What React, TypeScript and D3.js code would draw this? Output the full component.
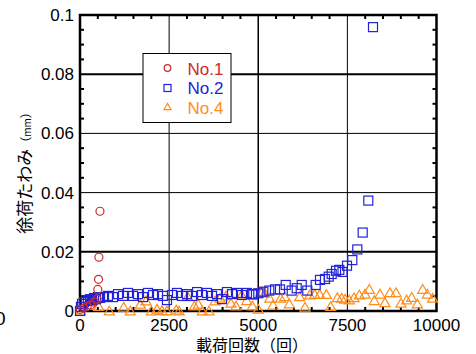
import React from 'react';
import * as d3 from 'd3';

// No.1 (cycles, mm)
const no1Cycles = [0, 100, 200, 300, 400, 480, 500, 520, 530, 560];
const no1Defl = [0.0005, 0.001, 0.0015, 0.002, 0.003, 0.004, 0.0073, 0.0107, 0.0182, 0.0337];

// No.2
const no2Cycles = [
  0, 28, 56, 112, 168, 224, 280, 337, 393, 449, 505, 561, 645, 785, 926, 1066, 1206, 1346,
  1487, 1627, 1767, 1907, 2048, 2188, 2328, 2440, 2580, 2721, 2861, 3001, 3142, 3282, 3422,
  3562, 3703, 3843, 3983, 4123, 4264, 4404, 4544, 4684, 4825, 4861, 5001, 5142, 5310, 5470,
  5610, 5770, 5938, 6079, 6219, 6376, 6611, 6732, 6872, 6976, 7060, 7181, 7274, 7363, 7490,
  7638, 7778, 7930, 8087, 8219,
];
const no2Defl = [
  0, 0.0014, 0.0024, 0.003, 0.0037, 0.0034, 0.004, 0.0037, 0.0044, 0.004, 0.0047, 0.0044,
  0.0047, 0.0051, 0.0047, 0.0057, 0.0051, 0.0061, 0.0051, 0.0057, 0.0047, 0.0061, 0.0054,
  0.0057, 0.0051, 0.0037, 0.0054, 0.0061, 0.0051, 0.0057, 0.0051, 0.0064, 0.0054, 0.0061,
  0.0051, 0.0057, 0.004, 0.0064, 0.0057, 0.0061, 0.0054, 0.0061, 0.0057, 0.0056, 0.006,
  0.0065, 0.0069, 0.0073, 0.0073, 0.0088, 0.0069, 0.0077, 0.0088, 0.0069, 0.0088, 0.0105,
  0.0108, 0.0116, 0.0125, 0.0136, 0.0139, 0.0132, 0.0153, 0.0172, 0.0208, 0.0265, 0.0373,
  0.0959,
];

// No.4
const no4Cycles = [
  20, 525, 822, 1226, 1411, 1692, 1851, 2001, 2160, 2300, 2440, 2700, 2780, 3020, 3207, 3319,
  3431, 3618, 3787, 3927, 4095, 4235, 4376, 4535, 4675, 4834, 5002, 5068, 5114, 5180, 5321,
  5414, 5630, 5742, 5871, 6163, 6312, 6443, 6583, 6724, 6911, 7032, 7218, 7340, 7433, 7553,
  7686, 7836, 7994, 8115, 8255, 8414, 8554, 8695, 8863, 9004, 9164, 9304, 9462, 9612, 9742,
  9892,
];
const no4Defl = [
  0, 0.0015, 0, 0.0013, 0, 0.0023, 0.0034, 0, 0.0006, 0.0001, 0, 0.0003, 0, 0.0048, 0.0017,
  0.0023, 0, 0, 0.0034, 0.0043, 0.0051, 0.0026, 0.0017, 0.0054, 0.0035, 0.0017, 0.0006,
  0.0063, 0.0065, 0.006, 0.0043, 0.002, 0.0043, 0.0048, 0.0024, 0.0048, 0.0013, 0.0054,
  0.0056, 0.0056, 0.0056, 0.0015, 0.0045, 0.0043, 0.004, 0.0037, 0.0045, 0.0054, 0.0057,
  0.0073, 0.0035, 0.0057, 0.0028, 0.0062, 0.0062, 0.0026, 0.0037, 0.0046, 0.0024, 0.0073,
  0.0057, 0.0043,
];

const xTicks = [0, 2500, 5000, 7500, 10000];
const yTicks = [0, 0.02, 0.04, 0.06, 0.08, 0.1];
const yTickLabels = ['0', '0.02', '0.04', '0.06', '0.08', '0.1'];

const RED = '#cc2a2a';
const BLUE = '#2222d8';
const ORANGE = '#ff8c1a';

const left = 80, right = 436.5, top = 15, bottom = 311;

const App: React.FC = () => {
  const x = d3.scaleLinear().domain([0, 10000]).range([left, right]);
  const y = d3.scaleLinear().domain([0, 0.1]).range([bottom, top]);
  const xMinor = d3.range(500, 10000, 500).filter(v => v % 2500 !== 0);
  const yMinor = d3.range(1, 20).map(i => i * 0.005).filter((v, i) => (i + 1) % 4 !== 0);
  const tri = d3.symbol().type(d3.symbolTriangle).size(44)();
  const triSmall = d3.symbol().type(d3.symbolTriangle).size(22)();
  const font = 'Arial, "Liberation Sans", sans-serif';
  const jp = '"Noto Sans CJK JP", sans-serif';

  return (
    <svg width={476} height={354} style={{ position: 'absolute', left: 0, top: 0, background: '#fff' }}>
      <rect width={476} height={354} fill="#fff" />
      {/* grid */}
      {yTicks.slice(1, -1).map((v, i) => (
        <line key={'gy' + i} x1={left} x2={right} y1={y(v)} y2={y(v)} stroke="#000"
          strokeWidth={v === 0.02 || v === 0.08 ? 2 : 1} />
      ))}
      {xTicks.slice(1, -1).map((v, i) => (
        <line key={'gx' + i} x1={x(v)} x2={x(v)} y1={top} y2={bottom} stroke="#000"
          strokeWidth={v === 5000 ? 1.5 : 1} />
      ))}
      {/* minor ticks */}
      {xMinor.map((v, i) => (
        <g key={'mx' + i}>
          <line x1={x(v)} x2={x(v)} y1={bottom} y2={bottom - 4} stroke="#000" strokeWidth={2} />
          <line x1={x(v)} x2={x(v)} y1={top} y2={top + 4} stroke="#000" strokeWidth={2} />
        </g>
      ))}
      {yMinor.map((v, i) => (
        <g key={'my' + i}>
          <line x1={left} x2={left + 4} y1={y(v)} y2={y(v)} stroke="#000" strokeWidth={2} />
          <line x1={right} x2={right - 4} y1={y(v)} y2={y(v)} stroke="#000" strokeWidth={2} />
        </g>
      ))}
      <rect x={left} y={top} width={right - left} height={bottom - top} fill="none" stroke="#000" strokeWidth={2.5} />

      {/* tick labels */}
      {yTicks.map((v, i) => (
        <text key={'ly' + i} x={74} y={y(v) + 6} textAnchor="end" fontSize={17} fontFamily={font}>
          {yTickLabels[i]}
        </text>
      ))}
      {xTicks.map((v, i) => (
        <text key={'lx' + i} x={x(v)} y={331} textAnchor="middle" fontSize={17} fontFamily={font}>
          {v}
        </text>
      ))}
      <text x={-5} y={325} fontSize={19} fontFamily={font}>0</text>

      {/* axis titles */}
      <text x={252} y={350.5} textAnchor="middle" fontSize={16} fontFamily={jp}>載荷回数（回）</text>
      <text transform="translate(31,170) rotate(-90)" textAnchor="middle" fontSize={17} fontFamily={jp}>
        徐荷たわみ<tspan fontSize={12}>（</tspan><tspan fontSize={10}>mm</tspan><tspan fontSize={12}>）</tspan>
      </text>

      {/* data */}
      {no4Cycles.map((c, i) => (
        <path key={'t' + i} d={tri} transform={`translate(${x(c)},${y(no4Defl[i]) + 1})`}
          fill="none" stroke={ORANGE} strokeWidth={1.2} />
      ))}
      {no2Cycles.map((c, i) => (
        <rect key={'s' + i} x={x(c) - 4.5} y={y(no2Defl[i]) - 4.5} width={9} height={9}
          fill="none" stroke={BLUE} strokeWidth={1.2} />
      ))}
      {no1Cycles.map((c, i) => (
        <circle key={'c' + i} cx={x(c)} cy={y(no1Defl[i])} r={4} fill="none" stroke={RED} strokeWidth={1.2} />
      ))}

      {/* legend */}
      <rect x={143} y={53.5} width={88} height={69} fill="#fff" stroke="#000" strokeWidth={1} />
      <circle cx={167.5} cy={68} r={3.3} fill="none" stroke={RED} strokeWidth={1.2} />
      <rect x={164} y={84.5} width={7} height={7} fill="none" stroke={BLUE} strokeWidth={1.2} />
      <path d={triSmall} transform="translate(167.5,107.5)" fill="none" stroke={ORANGE} strokeWidth={1.2} />
      <text x={187.5} y={74.5} fontSize={17} fontFamily={font} fill={RED}>No.1</text>
      <text x={187.5} y={94.3} fontSize={17} fontFamily={font} fill={BLUE}>No.2</text>
      <text x={187.5} y={113.5} fontSize={17} fontFamily={font} fill={ORANGE}>No.4</text>
    </svg>
  );
};

export default App;
